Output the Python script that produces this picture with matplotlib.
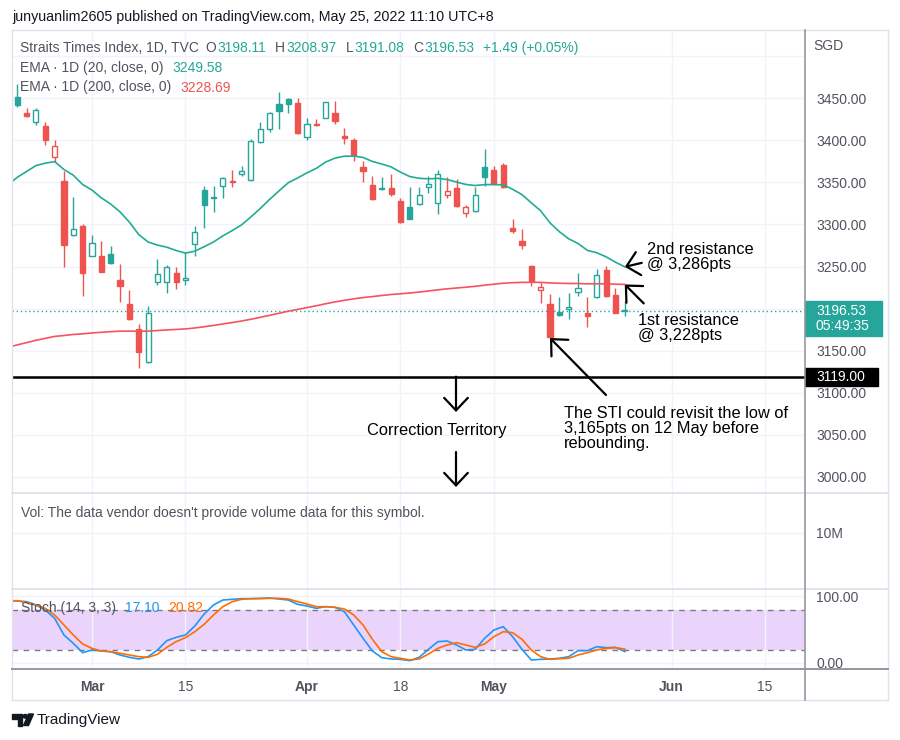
import numpy as np
import pandas as pd
import matplotlib
matplotlib.use('Agg')
import matplotlib.pyplot as plt
from matplotlib.lines import Line2D
from matplotlib.patches import Rectangle, Polygon, Circle

plt.rcParams['font.family'] = ['Liberation Sans', 'DejaVu Sans']

# ---- data (TVC:STI daily, 17 Feb - 25 May 2022) ----
holidays = ['2022-04-15', '2022-05-02', '2022-05-03', '2022-05-16']
prev_close = 3435.0
opens = [3451.6, 3433, 3421.8, 3417, 3380, 3352, 3287, 3298,
         3262, 3262, 3265, 3234.5, 3206, 3176, 3136, 3231, 3231, 3242.5, 3234, 3277,
         3341, 3331.5, 3346, 3351, 3360, 3353, 3398, 3413, 3443, 3449, 3444,
         3404, 3420, 3427, 3433, 3405, 3400, 3368, 3347, 3342, 3343.5, 3328,
         3321, 3324, 3344.5, 3325, 3334.5, 3343, 3313.5, 3316, 3368,
         3365, 3371, 3296, 3280, 3251, 3221.5, 3206, 3196, 3200, 3220,
         3194.5, 3213.5, 3246, 3216, 3198.11]
highs = [3466.7, 3438, 3439, 3422, 3401, 3364, 3333, 3301,
         3288, 3280, 3274, 3253, 3222, 3182, 3203, 3259, 3252, 3250, 3267, 3298,
         3346, 3346, 3356.5, 3365, 3370, 3402, 3422, 3434, 3457, 3450, 3450,
         3426, 3425, 3445.5, 3447, 3415, 3403, 3375, 3358, 3356, 3360, 3331,
         3345, 3345, 3358, 3365, 3356, 3354, 3323, 3344, 3390,
         3370, 3373, 3306, 3295, 3251.5, 3231, 3217, 3213.5, 3218, 3242,
         3213.5, 3247, 3251, 3225, 3208.97]
lows = [3440, 3428, 3418.7, 3395, 3374, 3249, 3286, 3215,
        3262, 3243, 3253, 3208, 3186, 3129, 3135, 3228, 3218, 3223, 3228, 3262,
        3296, 3315, 3331, 3345, 3358, 3352, 3397, 3410, 3414, 3432, 3408,
        3400, 3417, 3426, 3420, 3396, 3375, 3350, 3329, 3341, 3334, 3302,
        3306, 3323, 3337, 3313, 3331, 3321, 3309, 3315, 3346,
        3348, 3343, 3290, 3271, 3227, 3207, 3165, 3191, 3188, 3215,
        3178, 3213, 3214, 3195, 3191.08]
closes = [3441.7, 3429, 3436.5, 3400, 3393, 3276, 3294, 3242,
          3278, 3244, 3254, 3226.6, 3187, 3148, 3195, 3240.5, 3249, 3232, 3236, 3291,
          3323, 3333, 3355.6, 3352, 3364, 3399, 3414, 3432.5, 3435, 3443, 3409,
          3419, 3418, 3445, 3423, 3403, 3383, 3363.5, 3330, 3343, 3336, 3303,
          3307, 3335, 3348.5, 3360, 3339.7, 3322, 3320.6, 3334.5, 3357,
          3348.5, 3344, 3292, 3275, 3233, 3226, 3165.6, 3192, 3202, 3225,
          3191, 3240, 3215.0, 3195.04, 3196.53]
ema20_seed = 3347.0
ema200_seed = 3153.9
stoch_k = [93, 92, 87, 79.5, 67, 42, 29.5, 15.5,
           19.5, 18, 17, 12, 8.5, 6, 9.5, 19.5, 33.5, 38.5, 42, 55.5,
           73.5, 87, 94.5, 95.5, 96.5, 96.5, 97, 97.5, 96, 94.5, 88,
           85.5, 82, 84.5, 83.5, 77, 57, 37, 18, 8, 6, 5.5,
           3.5, 8.5, 20.5, 32, 33, 27, 19.5, 20.5, 37,
           49.5, 54.5, 39.5, 20.5, 4.5, 5.5, 6, 7, 9.5, 18.5,
           18.5, 24.5, 23, 23.5, 17.10]
stoch_d = [93.5, 90.5, 87, 82, 72, 57, 42, 28.5,
           22, 18, 17, 14.5, 12, 9.5, 8.5, 13, 23.5, 32, 38, 47,
           58, 72, 84.5, 92, 95.5, 96.5, 96.5, 97, 97, 96, 92,
           88.5, 84.5, 84.5, 83.5, 81, 72, 57, 35.5, 17, 9.5, 7,
           4.5, 6, 13.5, 22, 27, 30.5, 27, 23.5, 28.5,
           39.5, 47, 45.5, 35.5, 19.5, 9.5, 5.5, 6.5, 7, 12,
           15.5, 19.5, 22, 23, 20.82]
support = 3119.00
low_date = '2022-05-12'
tick_dates = ['2022-03-01', '2022-03-15', '2022-04-01', '2022-04-18',
              '2022-05-04', '2022-06-01', '2022-06-15']
tick_labels = ['Mar', '15', 'Apr', '18', 'May', 'Jun', '15']

GREEN = '#26a69a'
RED = '#ef5350'
GRID = '#f0f3fa'
TXT = '#50535e'

W, H = 900, 740
def fx(x):
    return x / W
def fy(y):
    return 1 - y / H

opens, highs, lows, closes = map(np.array, (opens, highs, lows, closes))
n = len(closes)
x = np.arange(n)
dates = pd.bdate_range('2022-02-17', '2022-06-30', freq='C', holidays=holidays)
tick_pos = [dates.get_loc(pd.Timestamp(d)) for d in tick_dates]

# EMAs from the closes
ema20, ema200 = [], []
e1, e2 = ema20_seed, ema200_seed
for c in closes:
    e1 += (c - e1) * 2 / 21
    e2 += (c - e2) * 2 / 201
    ema20.append(e1)
    ema200.append(e2)

fig = plt.figure(figsize=(9, 7.4), dpi=100)
fig.patch.set_facecolor('white')
ax = fig.add_axes([fx(12), fy(493), 793 / W, 463 / H])
axv = fig.add_axes([fx(12), fy(589), 793 / W, 96 / H], sharex=ax)
axs = fig.add_axes([fx(12), fy(669), 793 / W, 80 / H], sharex=ax)

mar1 = tick_pos[0]
ax.set_xlim(mar1 - 80 / 9.347, mar1 + 713 / 9.347)
ax.set_ylim(2980.7, 3531.2)
axv.set_ylim(0, 17.14)
axs.set_ylim(-9, 111)

for a in (ax, axv, axs):
    for s in a.spines.values():
        s.set_visible(False)
    a.yaxis.tick_right()
    a.tick_params(axis='y', length=0, pad=8, labelsize=10, labelcolor=TXT)
    a.tick_params(axis='x', length=0)
    a.set_xticks(tick_pos)
    a.grid(True, color=GRID, lw=1)
    a.set_axisbelow(True)
for a in (ax, axv):
    a.tick_params(axis='x', labelbottom=False)

ax.set_yticks(np.arange(3000, 3501, 50))
ax.set_yticklabels(['%.2f' % v for v in np.arange(3000, 3451, 50)] + [''])
axv.set_yticks([10])
axv.set_yticklabels(['10M'])
axs.set_yticks([0, 100])
axs.set_yticklabels(['0.00', '100.00'])
axs.set_xticklabels(tick_labels)
axs.tick_params(axis='x', pad=8, labelsize=10, labelcolor=TXT)
for lab in axs.get_xticklabels():
    if not lab.get_text().isdigit():
        lab.set_fontweight('bold')

# candles (hollow style: hollow when close > open, colour vs previous close)
prev = np.r_[prev_close, closes[:-1]]
col = np.where(closes >= prev, GREEN, RED)
face = np.where(closes > opens, 'white', col)
ax.vlines(x, lows, highs, colors=col, lw=1, zorder=2)
body_lo = np.minimum(opens, closes)
body_h = np.maximum(np.abs(closes - opens), 0.6)
ax.bar(x, body_h, bottom=body_lo, width=0.55, color=face, edgecolor=col,
       linewidth=1, zorder=3)

ax.plot(np.r_[-1, x], np.r_[ema20_seed, ema20], color='#22ab94', lw=1.2, zorder=4)
ax.plot(np.r_[-1, x], np.r_[ema200_seed, ema200], color='#f7525f', lw=1.2, zorder=4)
ax.axhline(closes[-1], color=GREEN, lw=1, ls=(0, (1, 2)), zorder=1)
ax.axhline(support, color='black', lw=1.8, zorder=5)

# stochastic pane
axs.axhspan(20, 80, color='#ead4fb', zorder=0.5, lw=0)
for lvl in (20, 80):
    axs.axhline(lvl, color='#787b86', lw=1, ls=(0, (4, 4)), zorder=1)
axs.plot(np.r_[-1, x], np.r_[stoch_k[0], stoch_k], color='#2196f3', lw=1.2, zorder=3)
axs.plot(np.r_[-1, x], np.r_[stoch_d[0], stoch_d], color='#ff6d00', lw=1.2, zorder=3)

# frame lines
def fline(x0, y0, x1, y1, c, lw):
    fig.add_artist(Line2D([fx(x0), fx(x1)], [fy(y0), fy(y1)], color=c, lw=lw,
                          transform=fig.transFigure))
fline(12, 30, 888, 30, '#e0e3eb', 1)
fline(12, 700, 888, 700, '#e0e3eb', 1)
fline(12, 30, 12, 700, '#e0e3eb', 1)
fline(888, 30, 888, 700, '#e0e3eb', 1)
fline(12, 493, 888, 493, '#e0e3eb', 1.4)
fline(12, 589, 888, 589, '#e0e3eb', 1.4)
fline(12, 669, 888, 669, '#9598a1', 1.4)
fline(805, 30, 805, 700, '#9598a1', 1.2)

# price labels on the scale
def ypx(p):
    return H - ax.transData.transform((0, p))[1]
yl = ypx(closes[-1])
fig.add_artist(Rectangle((fx(805), fy(yl + 25)), 77 / W, 35 / H, color=GREEN,
                         transform=fig.transFigure))
fig.text(fx(816), fy(yl), '%.2f' % closes[-1], color='white', fontsize=10, va='center')
fig.text(fx(816), fy(yl + 15), '05:49:35', color='white', fontsize=10, va='center')
ys = ypx(support)
fig.add_artist(Rectangle((fx(805), fy(ys + 9)), 73 / W, 18 / H, color='black',
                         transform=fig.transFigure))
fig.text(fx(816), fy(ys), '%.2f' % support, color='white', fontsize=10, va='center')
fig.text(fx(813), fy(46), 'SGD', color=TXT, fontsize=10, va='center')

# header and legends
fig.text(fx(12), fy(17), 'junyuanlim2605 published on TradingView.com, May 25, 2022 11:10 UTC+8',
         color='#131722', fontsize=10.3, va='center')
rend = fig.canvas.get_renderer()
def row(y, pieces, x0=20):
    cur = x0
    for s, c, gap in pieces:
        t = fig.text(fx(cur), fy(y), s, color=c, fontsize=10, va='center')
        cur = t.get_window_extent(rend).x1 + gap
chg = closes[-1] - closes[-2]
row(48, [('Straits Times Index, 1D, TVC', TXT, 7), ('O', TXT, 1), ('%.2f' % opens[-1], GREEN, 9),
         ('H', TXT, 1), ('%.2f' % highs[-1], GREEN, 9), ('L', TXT, 1),
         ('%.2f' % lows[-1], GREEN, 9), ('C', TXT, 1), ('%.2f' % closes[-1], GREEN, 9),
         ('%+.2f (%+.2f%%)' % (chg, chg / closes[-2] * 100), GREEN, 0)])
row(68, [('EMA · 1D (20, close, 0)', TXT, 9), ('%.2f' % ema20[-1], GREEN, 0)])
row(87.5, [('EMA · 1D (200, close, 0)', TXT, 9), ('%.2f' % ema200[-1], RED, 0)])
fig.text(fx(21), fy(513), "Vol: The data vendor doesn't provide volume data for this symbol.",
         color=TXT, fontsize=10, va='center')
row(608, [('Stoch (14, 3, 3)', TXT, 9), ('%.2f' % stoch_k[-1], '#2196f3', 9),
          ('%.2f' % stoch_d[-1], '#ff6d00', 0)], x0=21)

# annotations
def at(px_, py_):
    return ax.transData.inverted().transform((px_, H - py_))
arrow = dict(arrowstyle='->,head_length=0.9,head_width=0.85', lw=1.6, color='black',
             mutation_scale=10, shrinkA=0, shrinkB=0)
afs = 11.8
ax.annotate('', xy=at(456, 412), xytext=at(456, ys), arrowprops=arrow, annotation_clip=False)
ax.annotate('', xy=at(456, 487), xytext=at(456, 452), arrowprops=arrow, annotation_clip=False)
ax.text(*at(437, 430), 'Correction Territory', fontsize=afs, ha='center', va='center')
ax.annotate('2nd resistance\n@ 3,286pts', xy=(x[-1], ema20[-1]), xytext=(22, 10),
            textcoords='offset pixels', fontsize=afs, va='center', linespacing=1.0)
ax.annotate('', xy=(x[-1], ema20[-1]), xytext=(17, 4), textcoords='offset pixels',
            arrowprops=arrow)
ax.annotate('1st resistance\n@ 3,228pts', xy=(x[-1], ema200[-1]), xytext=(13, -44),
            textcoords='offset pixels', fontsize=afs, va='center', linespacing=1.0)
ax.annotate('', xy=(x[-1], ema200[-1]), xytext=(19, -19), textcoords='offset pixels',
            arrowprops=arrow)
low_i = dates.get_loc(pd.Timestamp(low_date))
ax.annotate('The STI could revisit the low of\n3,165pts on 12 May before\nrebounding.',
            xy=(x[low_i], lows[low_i]), xytext=(14, -91), textcoords='offset pixels',
            fontsize=afs, va='center', linespacing=1.0)
ax.annotate('', xy=(x[low_i], lows[low_i]), xytext=(56, -57), textcoords='offset pixels',
            arrowprops=arrow)

# TradingView logo
logo = '#131722'
fig.add_artist(Polygon([(fx(12), fy(714)), (fx(22), fy(714)), (fx(22), fy(725.5)),
                        (fx(17.5), fy(725.5)), (fx(17.5), fy(718.5)), (fx(12), fy(718.5))],
                       closed=True, color=logo, transform=fig.transFigure))
fig.add_artist(Circle((fx(25.3), fy(716.3)), 2.2 / W, color=logo, transform=fig.transFigure))
fig.add_artist(Polygon([(fx(28.5), fy(714)), (fx(33.5), fy(714)), (fx(28.5), fy(725.5)),
                        (fx(23.5), fy(725.5))], closed=True, color=logo, transform=fig.transFigure))
fig.text(fx(37), fy(720), 'TradingView', color=logo, fontsize=11, va='center')

fig.savefig('out.png', dpi=100, facecolor='white')
